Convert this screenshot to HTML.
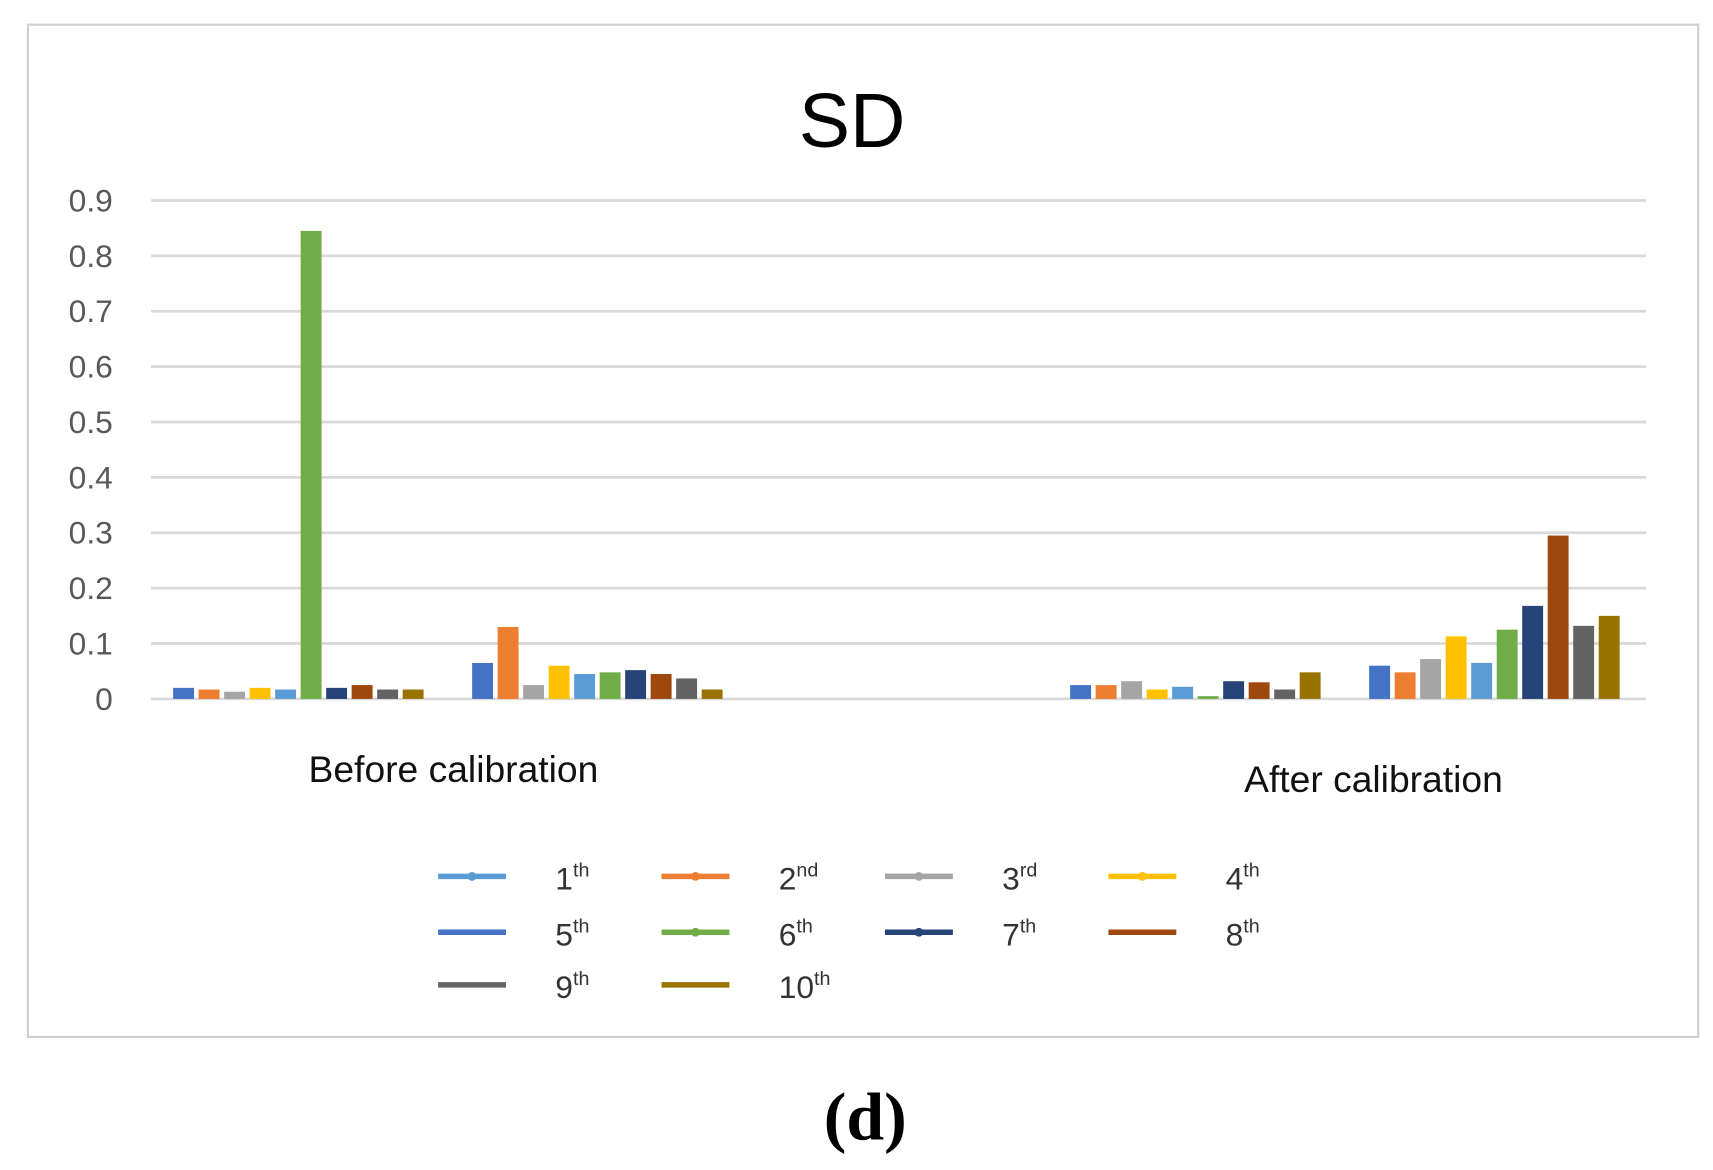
<!DOCTYPE html>
<html><head><meta charset="utf-8"><style>
html,body{margin:0;padding:0;background:#fff;}
svg{display:block;}
</style></head><body>
<svg id="chart" width="1713" height="1170" viewBox="0 0 1564 1068" preserveAspectRatio="none" xmlns="http://www.w3.org/2000/svg" font-family="'Liberation Sans', sans-serif">
<rect x="0" y="0" width="1564" height="1068" fill="#fff"/>
<rect x="25.5" y="22.5" width="1525" height="924" fill="#fff" stroke="#d0d0d0" stroke-width="2"/>
<text x="778" y="134" font-size="70" text-anchor="middle" fill="#000">SD</text>
<g id="grid"></g>
<g id="bars"></g>
<text x="414" y="714" font-size="34" text-anchor="middle" fill="#111">Before calibration</text>
<text x="1254" y="723" font-size="34" text-anchor="middle" fill="#111">After calibration</text>
<g id="legend"></g>
<text x="790" y="1040" font-size="62" font-weight="bold" font-family="'Liberation Serif', serif" text-anchor="middle" fill="#000">(d)</text>
</svg>
<script>
const categories = ["Before calibration","","","After calibration",""];
const seriesNames = ["1th","2nd","3rd","4th","5th","6th","7th","8th","9th","10th"];
const g0 = [0.02,0.017,0.013,0.02,0.017,0.845,0.02,0.025,0.017,0.017];
const g1 = [0.065,0.13,0.025,0.06,0.045,0.048,0.052,0.045,0.037,0.017];
const g2 = [0,0,0,0,0,0,0,0,0,0];
const g3 = [0.025,0.025,0.032,0.017,0.022,0.005,0.032,0.03,0.017,0.048];
const g4 = [0.06,0.048,0.072,0.113,0.065,0.125,0.168,0.295,0.132,0.15];
const groups = [g0,g1,g2,g3,g4];
const yTicks = [0,0.1,0.2,0.3,0.4,0.5,0.6,0.7,0.8,0.9];
const barColors = ["#4472c4","#ed7d31","#a5a5a5","#ffc000","#5b9bd5","#70ad47","#264478","#9e480e","#636363","#997300"];
const legendColors = ["#5b9bd5","#ed7d31","#a5a5a5","#ffc000","#4472c4","#70ad47","#264478","#9e480e","#636363","#997300"];
const NS="http://www.w3.org/2000/svg";
const X0=138,X1=1503,Y0=638,Y9=183;
function y(v){return Y0-(v/0.9)*(Y0-Y9);}
const catW=(X1-X0)/categories.length;
function mk(t,a,p){const e=document.createElementNS(NS,t);for(const k in a)e.setAttribute(k,a[k]);p.appendChild(e);return e;}
const grid=document.getElementById('grid');
yTicks.forEach(v=>{
  const l=mk('line',{x1:X0,x2:X1,y1:y(v),y2:y(v),stroke:'#d9d9d9','stroke-width':2.5},grid);
  
  
  const t=mk('text',{x:103,y:y(v)+10,'font-size':29,'text-anchor':'end',fill:'#595959'},grid);
  t.textContent=(v===0?'0':v.toFixed(1));
  
  
});
const bars=document.getElementById('bars');
const step=catW*0.853/10, bw=step*0.82;
groups.forEach((vals,ci)=>{
  const gx=X0+ci*catW+catW*0.0735;
  vals.forEach((v,si)=>{
    if(v<=0)return;
    const r=mk('rect',{x:gx+si*step,y:y(v),width:bw,height:Y0-y(v),fill:barColors[si]},bars);
    
    
  });
});
const leg=document.getElementById('legend');
const lx=[400,604,808,1012], ly=[800,851,899];
seriesNames.forEach((n,i)=>{
  const col=i%4,row=Math.floor(i/4);
  const x=lx[col],yy=ly[row];
  const g=mk('g',{},leg);
  
  
  mk('line',{x1:x,x2:x+62,y1:yy,y2:yy,stroke:legendColors[i],'stroke-width':5},g);
  mk('circle',{cx:x+31,cy:yy,r:i<7&&i!==4?4:0,fill:legendColors[i]},g);
  const m=n.match(/^(\d+)(\D+)$/);
  const t=mk('text',{x:x+107,y:yy+12,'font-size':29,fill:'#333'},g);
  t.textContent=m[1];
  const s=mk('tspan',{'font-size':18,dy:-12},t);
  s.textContent=m[2];
});
</script>
</body></html>
